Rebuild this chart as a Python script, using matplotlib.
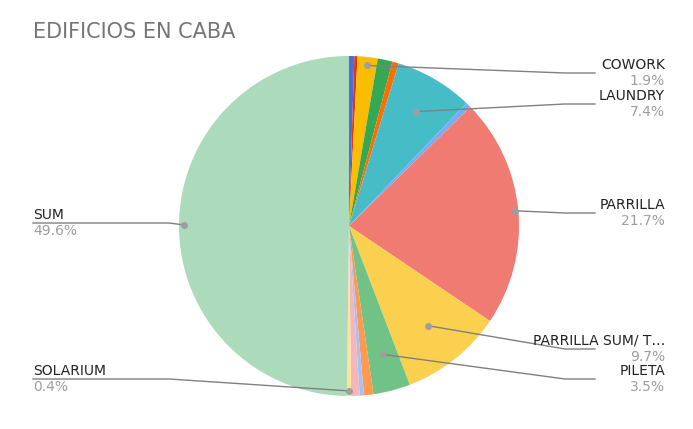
import numpy as np
import matplotlib.pyplot as plt

names = ['', '', 'COWORK', '', '', 'LAUNDRY', '', 'PARRILLA', 'PARRILLA SUM/ T…',
         'PILETA', '', '', '', 'SOLARIUM', 'SUM']
values = [0.5, 0.3, 1.9, 1.4, 0.6, 7.4, 0.5, 21.7, 9.7, 3.5, 0.9, 0.4, 0.8, 0.4, 49.6]
colors = ['#4a6fdc', '#dc3912', '#fbbc04', '#34a853', '#ff6d01', '#46bdc6', '#7baaf7',
          '#f07b72', '#fcd04f', '#71c287', '#ff994d', '#a3c2fa', '#f4b5bc', '#fde49b', '#acdbbb']

W, H = 693, 429
cx, cy, r = 349, 226, 170
fig = plt.figure(figsize=(W / 100, H / 100), dpi=100)
ax = fig.add_axes([(cx - r) / W, (H - cy - r) / H, 2 * r / W, 2 * r / H])
ax.pie(values, colors=colors, startangle=90, counterclock=False,
       wedgeprops=dict(linewidth=0))
ax.set_xlim(-1, 1)
ax.set_ylim(-1, 1)
ax.set_aspect('equal')

ov = fig.add_axes([0, 0, 1, 1])
ov.set_xlim(0, W)
ov.set_ylim(H, 0)
ov.axis('off')
ov.text(33, 32, 'EDIFICIOS EN CABA', fontsize=15, color='#757575', va='center')

# label layout: (text x, text y, side, line end x, dot radius factor)
layout = {
    'COWORK': (665, 65, 'r', 595, 0.95),
    'LAUNDRY': (665, 96, 'r', 595, 0.78),
    'PARRILLA': (665, 205, 'r', 595, 0.98),
    'PARRILLA SUM/ T…': (665, 341, 'r', 595, 0.75),
    'PILETA': (665, 371, 'r', 595, 0.78),
    'SOLARIUM': (33, 371, 'l', 33, 0.97),
    'SUM': (33, 215, 'l', 33, 0.97),
}
total = sum(values)
cum = 0
for name, v in zip(names, values):
    mid = cum + v / 2
    cum += v
    if name not in layout:
        continue
    tx, ty, side, lx, f = layout[name]
    ang = np.pi / 2 - 2 * np.pi * mid / total
    px, py = cx + f * r * np.cos(ang), cy - f * r * np.sin(ang)
    ly = ty + 8
    if side == 'r':
        ov.plot([px, lx - 30, lx], [py, ly, ly], color='#808080', lw=1)
        ha = 'right'
    else:
        ov.plot([px, cx - 180, lx], [py, ly, ly], color='#808080', lw=1)
        ha = 'left'
    ov.plot(px, py, 'o', color='#9e9e9e', ms=4)
    ov.text(tx, ty, name, ha=ha, va='center', fontsize=10, color='#222222')
    ov.text(tx, ty + 16, f'{v:.1f}%', ha=ha, va='center', fontsize=10, color='#9e9e9e')

fig.savefig('out.png', dpi=100)
